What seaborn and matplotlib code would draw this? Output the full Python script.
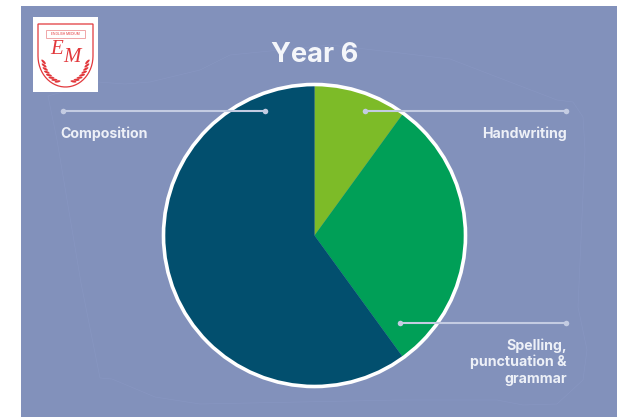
import numpy as np
import matplotlib
matplotlib.use("Agg")
import matplotlib.pyplot as plt
from matplotlib.patches import Rectangle, Polygon, Ellipse, Circle
import seaborn as sns

# Share of the Year 6 writing paper, clockwise from twelve o'clock
categories = ["Handwriting", "Spelling, punctuation & grammar", "Composition"]
shares = [10, 30, 60]
slice_colors = ["#7DBB28", "#009F57", "#024F6E"]
chart_title = "Year 6"

PANEL = "#8291BB"
LEADER = "#C4CCE2"
RED = "#E2383C"
W, H = 617, 417

sns.set_theme(style="white")
plt.rcParams["font.family"] = ["Inter", "DejaVu Sans"]


def flip(y):
    """Convert a distance from the top edge to axis height."""
    return H - y


fig = plt.figure(figsize=(W / 100, H / 100), dpi=100, facecolor="white")
ax = fig.add_axes([0, 0, 1, 1])

ax.pie(shares, colors=sns.color_palette(slice_colors), startangle=90, counterclock=False,
       center=(314.5, flip(235.5)), radius=150,
       wedgeprops=dict(linewidth=0, zorder=3))
ax.set_xlim(0, W)
ax.set_ylim(0, H)
ax.set_aspect("equal")
ax.axis("off")

# Background panel and the faint hand-drawn outline on it
ax.add_patch(Rectangle((21, 0), W - 21, H - 6, fc=PANEL, ec="none", zorder=0))
outline_x = [48, 57, 81, 100, 112, 155, 200, 400, 497, 523, 557, 583, 587, 578, 585, 583,
             573, 557, 450, 400, 330, 230, 200, 150, 125, 98, 48]
outline_y = [96, 140, 283, 378, 379, 397, 404, 400, 400, 405, 404, 380, 350, 307, 150, 117,
             102, 100, 59, 53, 45, 55, 70, 82, 84, 82, 96]
ax.plot(outline_x, [flip(v) for v in outline_y], color="#8A98C4", lw=0.5, alpha=0.7, zorder=1)

# White ring around the pie
ax.add_patch(Circle((314.5, flip(235.5)), 151, fc="none", ec="white", lw=2.6, zorder=4))

# Leader lines with round end points
for x0, x1, y in [(63, 265, 111), (365, 566, 111), (400, 566, 323)]:
    ax.plot([x0, x1], [flip(y)] * 2, color=LEADER, lw=1.5, zorder=5,
            marker="o", ms=4, mec="none", mfc=LEADER)

# Labels
label_style = dict(color="#EDF0F7", fontsize=10.2, fontweight="bold", zorder=6, va="center")
ax.text(60, flip(133.5), categories[2], ha="left", **label_style)
ax.text(567, flip(133.5), categories[0], ha="right", **label_style)
for line, y in zip(["Spelling,", "punctuation &", "grammar"], [346, 362, 379]):
    ax.text(567, flip(y), line, ha="right", **label_style)
ax.text(314.5, flip(55), chart_title, color="#F4F6FA", fontsize=19.6, fontweight="bold",
        ha="center", va="center", zorder=6)

# School crest in the corner
ax.add_patch(Rectangle((33, flip(92)), 65, 75, fc="white", ec="none", zorder=6))
t = np.linspace(0, np.pi, 30)
shield_x = np.r_[38, 93, 93, 65.5 + 27.5 * np.cos(t), 38]
shield_y = np.r_[24, 24, 56, 56 + 31 * np.sin(t), 24]
ax.add_patch(Polygon(np.c_[shield_x, [flip(v) for v in shield_y]], closed=True,
                     fc="none", ec=RED, lw=0.9, zorder=7))
ax.add_patch(Rectangle((46, flip(38)), 39, 8, fc="none", ec="#F0A6A8", lw=0.7, zorder=7))
ax.text(65.5, flip(34), "ENGLISH MEDIUM", color=RED, fontsize=2.4, ha="center", va="center", zorder=8)
ax.text(57, flip(49), "E", color=RED, fontsize=15, family="Liberation Serif", style="italic",
        ha="center", va="center", zorder=8)
ax.text(72, flip(57), "M", color=RED, fontsize=15, family="Liberation Serif", style="italic",
        ha="center", va="center", zorder=8)
# Laurel branches: little leaves along two mirrored arcs
for side in (-1, 1):
    for a in np.linspace(0.08, 1.2, 8):
        cx = 65.5 + side * 22 * np.cos(a)
        cy = 60 + 23 * np.sin(a)
        ax.add_patch(Ellipse((cx, flip(cy)), 6, 2.2, angle=side * 50 * (1 - a), fc=RED, ec="none", zorder=7))

fig.savefig("out.png", dpi=100, facecolor="white")
